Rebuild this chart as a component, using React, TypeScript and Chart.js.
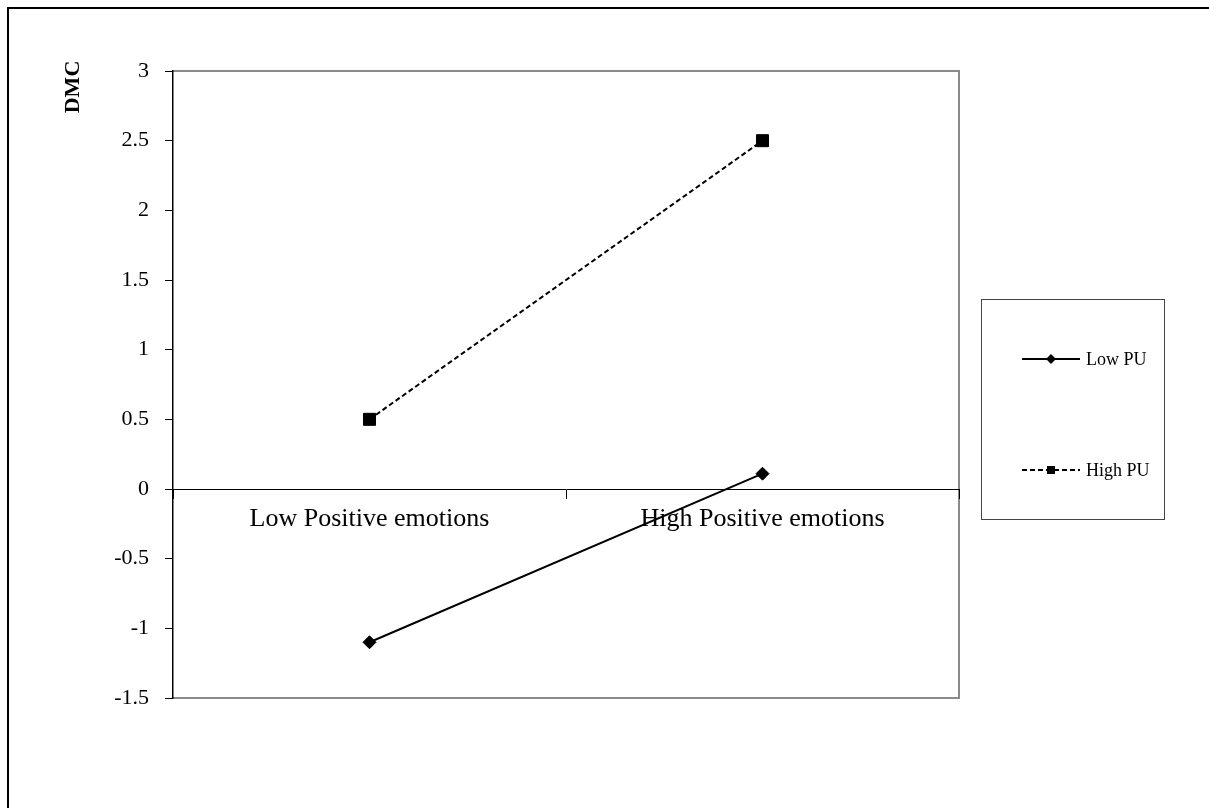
import React, { useEffect, useRef } from "react";
import { Chart, registerables } from "chart.js";

Chart.register(...registerables);

// ---- data ----
const categories: string[] = ["Low Positive emotions", "High Positive emotions"];
const seriesNames: string[] = ["Low PU", "High PU"];
const lowPU: number[] = [-1.1, 0.11];
const highPU: number[] = [0.5, 2.5];
const yAxisTitle = "DMC";
const yTickMin = -1.5;
const yTickMax = 3;
const yTickStep = 0.5;

const FONT = "'Liberation Serif', 'Times New Roman', serif";

const W = 1209;
const H = 808;

const decorPlugin = {
  id: "decor",
  beforeDraw(chart: any) {
    const { ctx, chartArea: a } = chart;
    ctx.save();
    ctx.fillStyle = "#ffffff";
    ctx.fillRect(0, 0, chart.width, chart.height);
    // outer frame (only top & left visible)
    ctx.fillStyle = "#000000";
    ctx.fillRect(7, 7, chart.width - 7, 2);
    ctx.fillRect(7, 7, 2, chart.height - 7);
    // plot area frame (gray)
    ctx.strokeStyle = "#8a8a8a";
    ctx.lineWidth = 2;
    ctx.beginPath();
    ctx.moveTo(a.left, a.top);
    ctx.lineTo(a.right, a.top);
    ctx.lineTo(a.right, a.bottom);
    ctx.lineTo(a.left, a.bottom);
    ctx.stroke();
    ctx.restore();
  },
  afterDraw(chart: any) {
    const { ctx } = chart;
    ctx.save();
    // y-axis title
    ctx.translate(73, 87);
    ctx.rotate(-Math.PI / 2);
    ctx.font = `bold 22px ${FONT}`;
    ctx.fillStyle = "#000";
    ctx.textAlign = "center";
    ctx.textBaseline = "middle";
    ctx.fillText(yAxisTitle, 0, 0);
    ctx.restore();

    // legend box
    ctx.save();
    ctx.strokeStyle = "#444";
    ctx.lineWidth = 1;
    ctx.strokeRect(981.5, 299.5, 183, 220);
    const rowsY = [359, 470];
    chart.data.datasets.forEach((ds: any, i: number) => {
      const y = rowsY[i];
      ctx.strokeStyle = ds.borderColor;
      ctx.lineWidth = ds.borderWidth;
      ctx.setLineDash(ds.borderDash || []);
      ctx.beginPath();
      ctx.moveTo(1022, y);
      ctx.lineTo(1080, y);
      ctx.stroke();
      ctx.setLineDash([]);
      ctx.fillStyle = ds.pointBackgroundColor;
      const cx = 1051;
      if (ds.pointStyle === "rectRot") {
        const r = 5;
        ctx.beginPath();
        ctx.moveTo(cx, y - r);
        ctx.lineTo(cx + r, y);
        ctx.lineTo(cx, y + r);
        ctx.lineTo(cx - r, y);
        ctx.closePath();
        ctx.fill();
      } else {
        const s = 7;
        ctx.fillRect(cx - s / 2 - 0.5, y - s / 2 - 0.5, s + 1, s + 1);
      }
      ctx.font = `18px ${FONT}`;
      ctx.fillStyle = "#000";
      ctx.textAlign = "left";
      ctx.textBaseline = "middle";
      ctx.fillText(ds.label, 1086, y + 1);
    });
    ctx.restore();
  },
};

export default function App() {
  const ref = useRef<HTMLCanvasElement | null>(null);

  useEffect(() => {
    if (!ref.current) return;
    const chart = new Chart(ref.current, {
      type: "line",
      data: {
        labels: categories,
        datasets: [
          {
            label: seriesNames[0],
            data: lowPU,
            borderColor: "#000000",
            backgroundColor: "#000000",
            borderWidth: 2,
            pointStyle: "rectRot",
            pointRadius: 6.5,
            pointBackgroundColor: "#000000",
            pointBorderColor: "#000000",
            pointBorderWidth: 1,
            tension: 0,
          },
          {
            label: seriesNames[1],
            data: highPU,
            borderColor: "#000000",
            backgroundColor: "#000000",
            borderWidth: 2,
            borderDash: [5, 3],
            pointStyle: "rect",
            pointRadius: 8.5,
            pointBackgroundColor: "#000000",
            pointBorderColor: "#000000",
            pointBorderWidth: 1,
            tension: 0,
          },
        ] as any,
      },
      options: {
        responsive: false,
        animation: false,
        devicePixelRatio: 1,
        layout: {
          padding: { left: 0, top: 71, right: W - 959, bottom: H - 698 },
        },
        plugins: {
          legend: { display: false },
          tooltip: { enabled: false },
          title: { display: false },
        },
        scales: {
          x: {
            type: "category",
            position: { y: 0 } as any,
            offset: true,
            grid: {
              offset: true,
              drawOnChartArea: false,
              drawTicks: true,
              tickLength: 9,
              color: "#000000",
              lineWidth: 1,
            },
            border: { display: true, color: "#000000", width: 1 },
            ticks: {
              color: "#000000",
              font: { family: FONT, size: 26 },
              padding: 6,
              maxRotation: 0,
              autoSkip: false,
            },
            afterFit(scale: any) {
              scale.height = 0;
            },
          },
          y: {
            type: "linear",
            position: "left",
            min: yTickMin,
            max: yTickMax,
            grid: {
              drawOnChartArea: false,
              drawTicks: true,
              tickLength: 8,
              color: "#000000",
              lineWidth: 1,
            },
            border: { display: true, color: "#000000", width: 1.5 },
            ticks: {
              stepSize: yTickStep,
              color: "#000000",
              font: { family: FONT, size: 22 },
              padding: 16,
              callback: (v: any) => String(Number(v)),
            },
            afterFit(scale: any) {
              scale.width = 173;
            },
          },
        },
      } as any,
      plugins: [decorPlugin],
    });
    return () => chart.destroy();
  }, []);

  return (
    <canvas
      ref={ref}
      width={W}
      height={H}
      style={{ position: "fixed", left: 0, top: 0, width: W, height: H }}
    />
  );
}
